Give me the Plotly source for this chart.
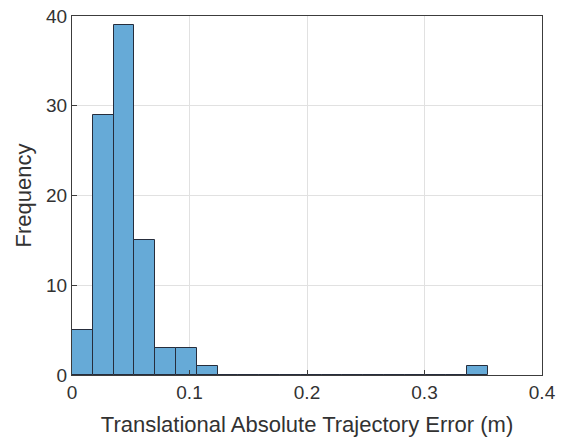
import plotly.graph_objects as go

bin_width = 0.0177
counts = [5, 29, 39, 15, 3, 3, 1, 0, 0, 0, 0, 0, 0, 0, 0, 0, 0, 0, 0, 1]
x_ticks = [0, 0.1, 0.2, 0.3, 0.4]
x_tick_labels = ["0", "0.1", "0.2", "0.3", "0.4"]
y_ticks = [0, 10, 20, 30, 40]

centers = [(i + 0.5) * bin_width for i in range(len(counts))]

fig = go.Figure()
fig.add_trace(go.Bar(
    x=centers, y=counts, width=[bin_width] * len(counts),
    marker=dict(color="rgb(102,170,215)", line=dict(color="rgb(38,45,60)", width=1)),
))

font = "Liberation Sans, Arial, Helvetica, sans-serif"
txt = "rgb(50,50,50)"
axis_common = dict(
    showline=True, linecolor="rgb(60,60,60)", linewidth=1, mirror=True,
    showgrid=True, gridcolor="rgb(225,225,225)", gridwidth=1,
    ticks="inside", ticklen=5, tickcolor="rgb(60,60,60)",
    zeroline=False, tickfont=dict(size=19, color=txt, family=font),
    automargin=False,
)
fig.update_xaxes(range=[0, 0.4], tickvals=x_ticks, ticktext=x_tick_labels,
                 title=dict(text="Translational Absolute Trajectory Error (m)",
                            font=dict(size=22, color=txt, family=font), standoff=14),
                 **axis_common)
fig.update_yaxes(range=[0, 40], tickvals=y_ticks,
                 title=dict(text="Frequency", font=dict(size=22, color=txt, family=font), standoff=8),
                 **axis_common)
fig.update_layout(
    width=564, height=439, margin=dict(l=72, r=22, t=16, b=64),
    paper_bgcolor="white", plot_bgcolor="white", showlegend=False, bargap=0,
)
fig.write_html("out.html")
